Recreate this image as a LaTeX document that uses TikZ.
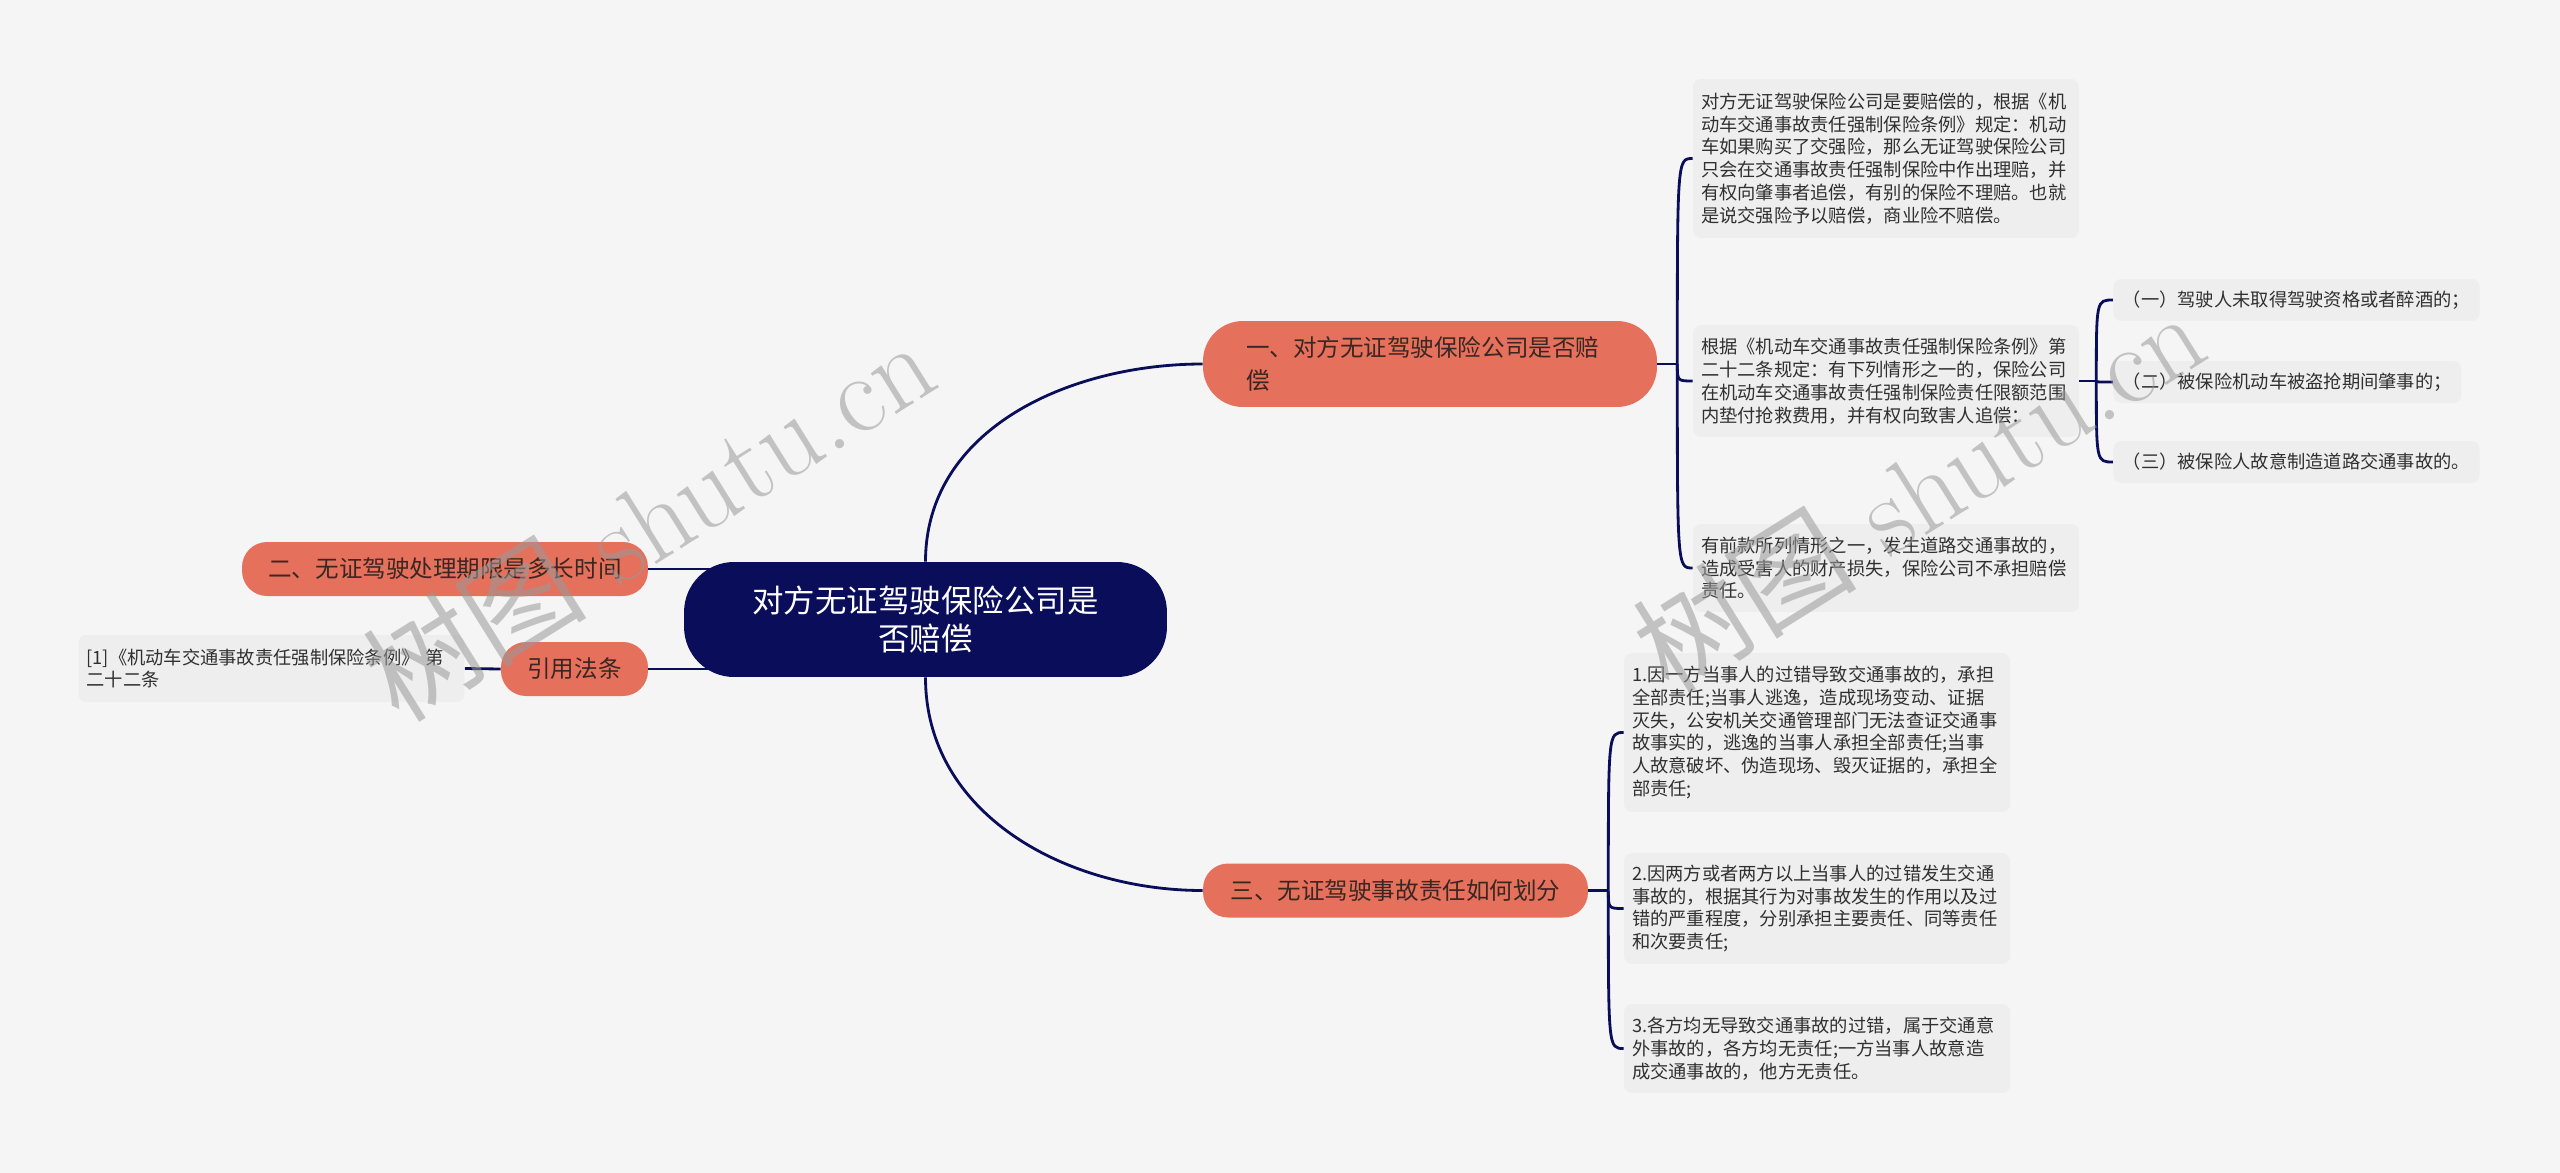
\documentclass[tikz,border=0pt]{standalone}
\usepackage{fontspec}
\newfontfamily\cjk{Noto Sans CJK SC}
\usetikzlibrary{backgrounds}
\definecolor{bgcol}{HTML}{F5F5F5}
\definecolor{navy}{HTML}{0A0E5A}
\definecolor{coral}{HTML}{E5705B}
\definecolor{leafcol}{HTML}{EEEEEE}
\definecolor{inkcol}{HTML}{3A2622}
\definecolor{leaftext}{HTML}{303030}
\begin{document}
\begin{tikzpicture}[x=0.02cm, y=0.02cm,
        link/.style={navy, line width=1.6pt},
        rootbox/.style={fill=navy, text=white, rounded corners=1cm, minimum width=9.66cm, minimum height=2.3cm, align=center, font=\cjk\fontsize{17.9}{21.6}\selectfont},
        topicbox/.style={fill=coral, text=inkcol, rounded corners=0.5cm, minimum height=1.08cm, inner xsep=0.2cm, font=\cjk\fontsize{13.4}{19.3}\selectfont},
        leafbox/.style={fill=leafcol, text=leaftext, rounded corners=0.16cm, text width=7.4cm, inner xsep=0.16cm, align=left, font=\cjk\fontsize{10.4}{13}\selectfont},
        itembox/.style={fill=leafcol, text=leaftext, rounded corners=0.16cm, inner xsep=0.19cm, minimum height=0.84cm, anchor=west, font=\cjk\fontsize{10.4}{13}\selectfont},
        watermark/.style={text=gray!80, text opacity=0.55, rotate=32, font=\fontsize{64}{64}\selectfont}]
    \useasboundingbox (0,0) rectangle (2560,-1173);

    \node[rootbox] (root) at (925.5,-619.5) {对方无证驾驶保险公司是\\否赔偿};

    \node[topicbox, text width=7.36cm, inner xsep=0.86cm, align=left, minimum height=1.72cm, rounded corners=0.8cm] (t1) at (1430,-364) {一、对方无证驾驶保险公司是否赔\\偿};
    \node[topicbox, minimum width=8.12cm] (t2) at (445,-569) {二、无证驾驶处理期限是多长时间};
    \node[topicbox, minimum width=7.7cm] (t3) at (1395.5,-890.5) {三、无证驾驶事故责任如何划分};
    \node[topicbox, minimum width=2.94cm] (cite) at (574.5,-669) {引用法条};

    \node[leafbox, minimum height=3.18cm] (a1) at (1886,-158.5) {对方无证驾驶保险公司是要赔偿的，根据《机\\动车交通事故责任强制保险条例》规定：机动\\车如果购买了交强险，那么无证驾驶保险公司\\只会在交通事故责任强制保险中作出理赔，并\\有权向肇事者追偿，有别的保险不理赔。也就\\是说交强险予以赔偿，商业险不赔偿。};
    \node[leafbox, minimum height=2.24cm] (a2) at (1886,-381) {根据《机动车交通事故责任强制保险条例》第\\二十二条规定：有下列情形之一的，保险公司\\在机动车交通事故责任强制保险责任限额范围\\内垫付抢救费用，并有权向致害人追偿：};
    \node[leafbox, minimum height=1.76cm] (a3) at (1886,-568) {有前款所列情形之一，发生道路交通事故的，\\造成受害人的财产损失，保险公司不承担赔偿\\责任。};

    \node[itembox] (s1) at (2113,-300) {（一）驾驶人未取得驾驶资格或者醉酒的；};
    \node[itembox] (s2) at (2113,-382) {（二）被保险机动车被盗抢期间肇事的；};
    \node[itembox] (s3) at (2113,-462) {（三）被保险人故意制造道路交通事故的。};

    \node[leafbox, minimum height=3.18cm] (c1) at (1817,-732.5) {1.因一方当事人的过错导致交通事故的，承担\\全部责任;当事人逃逸，造成现场变动、证据\\灭失，公安机关交通管理部门无法查证交通事\\故事实的，逃逸的当事人承担全部责任;当事\\人故意破坏、伪造现场、毁灭证据的，承担全\\部责任;};
    \node[leafbox, minimum height=2.22cm] (c2) at (1817,-908.5) {2.因两方或者两方以上当事人的过错发生交通\\事故的，根据其行为对事故发生的作用以及过\\错的严重程度，分别承担主要责任、同等责任\\和次要责任;};
    \node[leafbox, minimum height=1.78cm] (c3) at (1817,-1048.5) {3.各方均无导致交通事故的过错，属于交通意\\外事故的，各方均无责任;一方当事人故意造\\成交通事故的，他方无责任。};

    \node[leafbox, minimum height=1.34cm] (law) at (271.5,-668.5) {[1]《机动车交通事故责任强制保险条例》 第\\二十二条};

    \coordinate (f1) at ([xshift=0.4cm]t1.east);
    \coordinate (f2) at ([xshift=0.34cm]a2.east);
    \coordinate (f3) at ([xshift=0.4cm]t3.east);

    \begin{scope}[on background layer]
        \fill[bgcol] (0,0) rectangle (2560,-1173);
        \draw[link] (root.north) to[out=90,in=180] (t1.west);
        \draw[link] (root.south) to[out=-90,in=180] (t3.west);
        \draw[link] (t2.east) -- (t2.east -| root.center);
        \draw[link] (cite.east) -- (cite.east -| root.center);
        \draw[link] (law.east) -- (cite.west);
        \draw[link] (t1.east) -- (f1);
        \foreach \n in {a1,a2,a3}
            \draw[link] (f1) .. controls (f1 |- \n.west) .. (\n.west);
        \draw[link] (a2.east) -- (f2);
        \foreach \n in {s1,s2,s3}
            \draw[link] (f2) .. controls (f2 |- \n.west) .. (\n.west);
        \draw[link] (t3.east) -- (f3);
        \foreach \n in {c1,c2,c3}
            \draw[link] (f3) .. controls (f3 |- \n.west) .. (\n.west);
    \end{scope}

    \node[watermark] (wm1) at (648,-519) {{\cjk 树图} shutu.cn};
    \node[watermark] (wm2) at (1918,-490) {{\cjk 树图} shutu.cn};
\end{tikzpicture}
\end{document}
